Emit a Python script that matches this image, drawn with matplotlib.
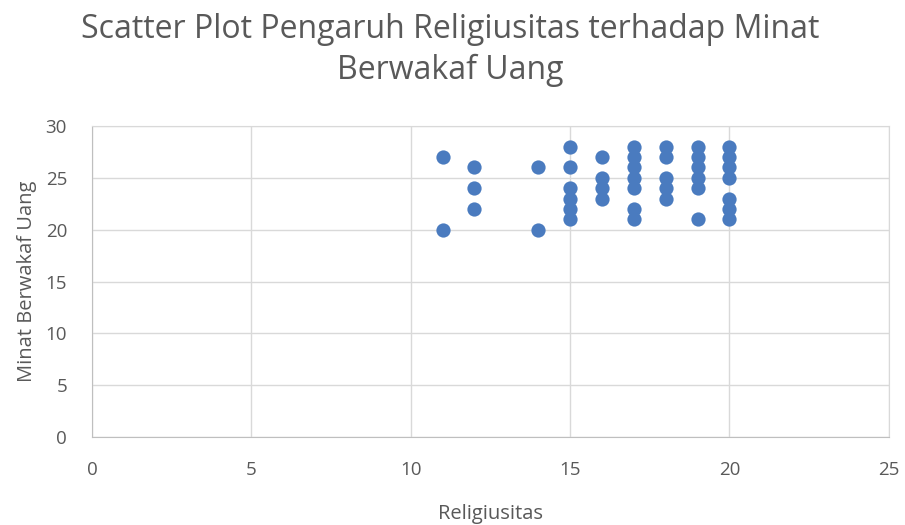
import numpy as np
import matplotlib.pyplot as plt

plt.rcParams['font.family'] = ['Open Sans', 'DejaVu Sans']

# data
religiusitas = [11, 11,
                12, 12, 12,
                14, 14,
                15, 15, 15, 15, 15, 15,
                16, 16, 16, 16,
                17, 17, 17, 17, 17, 17, 17,
                18, 18, 18, 18, 18,
                19, 19, 19, 19, 19, 19,
                20, 20, 20, 20, 20, 20, 20]
minat = [27, 20,
         26, 24, 22,
         26, 20,
         28, 26, 24, 23, 22, 21,
         27, 25, 24, 23,
         28, 27, 26, 25, 24, 22, 21,
         28, 27, 25, 24, 23,
         28, 27, 26, 25, 24, 21,
         28, 27, 26, 25, 23, 22, 21]

xticks = [0, 5, 10, 15, 20, 25]
yticks = [0, 5, 10, 15, 20, 25, 30]

gray = '#595959'
gridc = '#d9d9d9'

fig = plt.figure(figsize=(9.05, 5.25), dpi=100)
ax = fig.add_axes([0.1017, 0.1676, 0.8804, 0.5924])

ax.scatter(religiusitas, minat, s=105, color='#4a7bbf', zorder=3, linewidths=0)

ax.set_xlim(0, 25)
ax.set_ylim(0, 30)
ax.set_xticks(xticks)
ax.set_yticks(yticks)
ax.grid(True, color=gridc, linewidth=1)
ax.set_axisbelow(True)
for s in ax.spines.values():
    s.set_color(gridc)
ax.spines['left'].set_color('#bfbfbf')
ax.spines['bottom'].set_color('#bfbfbf')
ax.tick_params(length=0, labelsize=13.5, labelcolor=gray)
ax.tick_params(axis='y', pad=18)
ax.tick_params(axis='x', pad=17)

ax.set_xlabel('Religiusitas', fontsize=14.5, color=gray, labelpad=18)
ax.set_ylabel('Minat Berwakaf Uang', fontsize=14.5, color=gray, labelpad=6)

fig.text(0.497, 0.905, 'Scatter Plot Pengaruh Religiusitas terhadap Minat\nBerwakaf Uang',
         ha='center', va='center', fontsize=23, color=gray, linespacing=1.32)

fig.savefig('out.png', dpi=100)
